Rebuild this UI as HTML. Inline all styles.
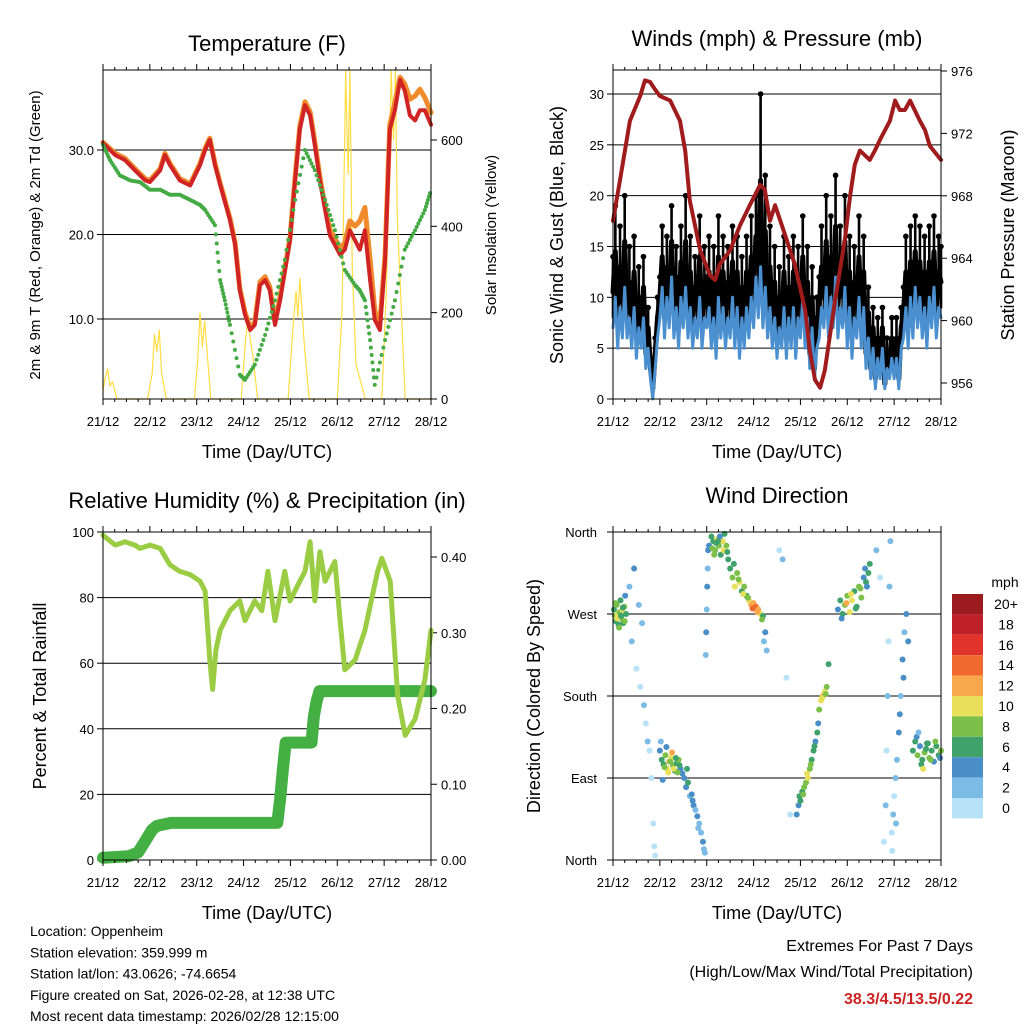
<!DOCTYPE html>
<html><head><meta charset="utf-8"><style>
html,body{margin:0;padding:0;background:#fff}
svg{display:block;font-family:"Liberation Sans",Arial,sans-serif}
</style></head><body>
<svg id="c" width="1024" height="1024" viewBox="0 0 1024 1024" xmlns="http://www.w3.org/2000/svg"></svg>
<script>
// ---------- DATA ----------
const dayLabels=["21/12","22/12","23/12","24/12","25/12","26/12","27/12","28/12"];
const tempT=[0,0.26,0.47,0.68,0.90,1.00,1.22,1.32,1.43,1.64,1.86,2.07,2.18,2.28,2.39,2.50,2.71,2.82,2.92,3.03,3.14,3.24,3.35,3.46,3.56,3.67,3.78,3.99,4.10,4.20,4.31,4.42,4.52,4.63,4.74,4.84,5.06,5.16,5.27,5.38,5.48,5.59,5.70,5.80,5.91,6.02,6.12,6.23,6.34,6.44,6.55,6.66,6.76,6.87,7.00];
const temp2m=[30.8,29.4,28.8,27.6,26.4,26.2,27.6,29.4,28.2,26.4,25.8,28.2,30.0,31.2,28.2,25.9,21.7,18.8,13.4,10.5,8.7,9.3,14.0,14.6,13.4,9.3,12.2,19.3,26.4,32.4,35.3,34.1,30.6,26.4,22.9,19.9,17.6,18.2,20.5,19.3,18.2,20.5,14.6,9.9,8.7,17.0,32.4,34.7,38.3,37.0,34.1,33.5,34.7,34.7,33.0];
const temp9m=[30.9,29.6,29.0,27.8,26.6,26.4,27.8,29.6,28.4,26.6,26.0,28.4,30.2,31.4,28.4,26.1,21.9,19.0,13.6,10.8,9.0,9.6,14.4,15.0,13.8,9.7,12.6,19.6,26.8,32.8,35.7,34.5,31.0,26.8,23.3,20.6,18.4,19.0,21.6,21.0,21.6,23.2,17.0,11.0,9.6,17.6,33.0,35.6,38.6,37.8,36.0,36.4,37.2,36.2,34.4];
const tdT=[0,0.15,0.36,0.58,0.79,1.00,1.22,1.43,1.64,1.86,2.07,2.18,2.39,2.50,2.60,2.71,2.92,3.03,3.24,3.46,3.67,3.88,4.10,4.31,4.52,4.74,4.95,5.16,5.38,5.48,5.59,5.70,5.80,6.02,6.23,6.44,6.66,6.87,7.00];
const tdVal=[30.6,28.8,27.0,26.4,26.2,25.3,25.3,24.7,24.7,24.1,23.5,22.9,21.1,14.6,12.2,9.3,3.4,2.8,4.6,8.1,12.2,17.0,24.1,30.0,27.6,24.1,20.5,15.8,14.0,13.4,12.2,7.5,2.2,7.5,12.2,18.2,20.5,22.9,25.3];
const solT=[0,0.05,0.1,0.15,0.2,0.3,0.95,1.05,1.1,1.15,1.2,1.25,1.35,1.95,2.02,2.07,2.12,2.17,2.3,2.95,3.03,3.09,3.14,3.2,3.3,3.95,4.05,4.12,4.16,4.2,4.3,4.4,5.0,5.1,5.18,5.23,5.27,5.32,5.4,5.6,5.95,6.05,6.15,6.2,6.24,6.28,6.35,6.45,7.0];
const solVal=[20,50,70,30,40,0,0,60,150,110,160,60,0,0,90,200,120,180,0,0,120,190,140,100,0,0,160,250,190,280,120,0,0,200,760,520,760,300,80,0,0,260,760,600,760,420,250,0,0];

const windT=[];for(let i=0;i<=140;i++)windT.push(i/20);
const windSonic=[7,10,5,9,6,11,6,8,5,9,4,7,5,8,3,5,2,0,3,6, 8,11,6,10,7,12,6,9,5,10,7,11,6,9,5,8,6,10,5,8, 7,9,5,8,4,10,6,9,5,8,6,10,5,9,4,8,5,9,6,10, 7,12,8,13,7,11,6,9,5,8,4,7,5,9,4,8,5,9,4,8, 6,10,5,8,3,7,2,5,6,9,7,11,6,10,7,12,6,9,7,11, 5,9,4,8,6,10,5,9,3,6,2,5,1,4,2,5,1,3,2,4, 2,4,1,5,6,9,5,10,6,11,7,10,6,9,5,10,7,11,6,9, 8];
const windGust=[14,19,12,17,13,20,11,15,10,16,9,13,8,14,6,9,4,2,6,10, 12,17,10,16,12,19,11,15,9,17,13,20,11,16,10,14,12,18,10,15, 12,16,9,15,8,18,11,16,10,15,12,17,10,16,8,14,10,16,11,18, 14,20,18,30,14,22,12,17,10,15,8,13,10,16,8,14,10,16,9,15, 12,18,10,15,6,13,4,10,12,17,13,20,12,18,14,22,12,17,14,20, 10,16,9,15,12,18,10,16,6,11,4,9,3,8,4,9,2,6,4,8, 4,8,3,9,11,16,10,17,11,18,13,17,11,16,10,17,12,18,11,16, 15];
const presT=[0,0.15,0.36,0.58,0.68,0.79,0.90,1.00,1.22,1.43,1.54,1.64,1.86,2.07,2.18,2.28,2.50,2.71,2.92,3.14,3.24,3.35,3.46,3.67,3.88,4.10,4.20,4.31,4.42,4.52,4.74,4.95,5.06,5.16,5.27,5.48,5.59,5.70,5.91,6.02,6.12,6.23,6.34,6.55,6.66,6.76,7.00];
const presVal=[966.4,969.0,972.8,974.4,975.4,975.3,974.8,974.4,974.1,972.8,970.9,967.7,964.5,962.9,962.6,963.6,964.5,966.1,967.4,968.7,968.4,966.4,967.4,965.5,963.6,960.7,958.1,956.2,955.7,956.8,961.3,965.2,968.0,970.0,970.9,970.3,970.9,971.6,972.8,974.1,973.5,973.5,974.1,972.8,972.2,971.2,970.3];

const rhT=[0,0.26,0.47,0.68,0.79,1.00,1.22,1.43,1.64,1.86,2.07,2.18,2.28,2.34,2.41,2.50,2.71,2.92,3.03,3.24,3.39,3.52,3.67,3.88,3.99,4.20,4.31,4.42,4.52,4.63,4.74,4.95,5.06,5.16,5.38,5.59,5.86,5.95,6.13,6.29,6.45,6.66,6.87,7.00];
const rhVal=[99,96,97,96,95,96,95,90,88,87,85,82,61,52,64,70,76,79,73,79,76,88,73,88,79,85,88,97,79,94,85,91,73,58,61,70,88,92,85,50,38,43,55,70];
const precipT=[0,0.55,0.75,0.85,0.95,1.05,1.15,1.45,3.72,3.78,3.84,3.90,4.45,4.50,4.56,4.62,7.0];
const precipVal=[0.003,0.005,0.01,0.02,0.03,0.04,0.045,0.049,0.049,0.08,0.12,0.155,0.155,0.19,0.21,0.223,0.223];

const wdT=[0.02,0.04,0.06,0.08,0.10,0.12,0.14,0.16,0.18,0.20,0.22,0.24,0.26,0.28,0.05,0.09,0.13,0.17,0.21,0.25,
0.35,0.40,0.45,0.50,0.55,0.58,0.62,0.66,0.70,0.74,0.78,0.82,0.86,0.88,0.90,
1.00,1.04,1.08,1.12,1.16,1.20,1.24,1.28,1.32,1.36,1.40,1.44,1.48,1.02,1.10,1.18,1.26,1.34,1.42,1.06,1.14,1.22,1.30,1.38,
1.52,1.56,1.60,1.64,1.68,1.72,1.76,1.80,1.84,1.88,1.92,1.96,1.58,1.70,1.82,1.94,
1.98,1.99,2.00,2.01,2.02,2.03,2.05,2.10,2.14,2.18,2.22,2.26,2.30,2.34,2.38,2.42,2.46,2.12,2.20,2.28,2.36,2.44,2.16,2.24,
2.50,2.55,2.60,2.65,2.70,2.75,2.80,2.85,2.90,2.95,3.00,3.05,3.10,3.15,3.20,3.25,2.58,2.68,2.78,2.88,2.98,3.08,3.18,3.22,3.28,
3.55,3.62,3.70,3.78,
3.92,3.96,4.00,4.04,4.08,4.12,4.16,4.20,4.24,4.28,4.32,4.36,4.40,4.44,4.48,4.52,4.56,4.60,3.98,4.06,4.14,4.22,4.30,4.38,4.46,4.54,
4.80,4.85,4.90,4.95,5.00,5.05,5.10,5.15,5.20,5.25,5.30,5.35,5.40,5.45,4.88,4.98,5.08,5.18,5.28,5.38,5.42,5.48,
5.62,5.70,5.78,5.82,5.84,5.86,5.88,5.90,5.92,5.95,5.98,6.00,6.03,6.06,6.10,6.14,6.18,6.22,6.26,6.30,5.96,6.04,6.12,6.20,
6.40,6.45,6.50,6.55,6.60,6.65,6.70,6.75,6.80,6.85,6.90,6.95,7.00,6.48,6.58,6.68,6.78,6.88,6.98,6.52,6.62,6.72];
const wdDir=[275,268,262,280,270,258,272,285,265,275,260,278,290,270,282,265,255,268,277,262,
300,240,320,210,280,190,260,170,150,130,120,90,40,15,5,
120,110,105,115,100,108,112,104,98,106,110,100,95,130,102,96,118,112,104,88,124,108,100,96,
90,80,85,70,72,60,55,48,40,30,20,8,100,65,35,12,
225,250,275,300,320,340,345,355,350,340,352,345,335,350,358,345,330,342,348,355,340,338,335,350,
320,310,300,315,305,295,300,290,285,280,282,278,275,270,268,250,325,308,292,288,276,272,264,240,230,
340,330,200,50,
50,60,65,75,80,85,90,100,110,120,130,140,165,175,180,185,190,215,70,72,95,105,125,150,178,182,
275,285,270,280,290,272,285,295,278,300,288,310,305,315,265,282,292,276,298,320,300,325,
340,310,20,60,120,180,240,300,350,30,50,70,90,110,140,180,220,250,270,240,10,40,160,200,
120,130,115,125,110,118,128,112,120,108,125,115,120,135,105,122,110,130,112,140,100,128];
const wdSpd=[7,8,6,9,10,7,8,6,9,11,7,8,5,6,9,10,8,7,6,9,
3,2,4,1,2,1,3,2,1,2,1,1,1,0,1,
4,6,7,9,11,12,10,8,7,6,9,5,4,3,8,10,12,7,6,5,4,9,11,8,
5,4,6,3,5,4,3,4,2,3,4,2,6,5,3,2,
3,4,3,4,3,4,5,6,7,9,10,8,7,11,6,8,7,9,6,5,10,7,8,6,
7,8,10,9,11,7,8,6,10,12,13,14,12,10,7,4,6,9,11,8,14,13,9,3,3,
1,2,1,0,
4,5,7,6,8,9,10,8,7,6,5,6,8,10,12,11,9,7,6,8,11,9,7,5,10,9,
5,6,7,9,8,10,11,7,6,8,9,5,7,6,4,12,10,7,8,5,4,6,
2,1,1,2,1,2,1,3,2,1,2,1,2,3,4,3,4,3,5,4,1,2,4,5,
6,7,8,5,6,9,7,8,6,5,7,6,8,4,6,7,9,8,5,3,10,6];
const cbLabels=["20+","18","16","14","12","10","8","6","4","2","0"];
const cbColors=["#9b1b1e","#c0202a","#e0332c","#f06a2d","#f8a84a","#e8e05a","#7cc04a","#3fa26a","#4a8ec8","#7cbbe6","#b8e2f8"];

// ---------- HELPERS ----------
const svg=document.getElementById('c');
const NS="http://www.w3.org/2000/svg";
function mk(tag,attrs,name,parent){
  const el=document.createElementNS(NS,tag);
  for(const k in attrs)el.setAttribute(k,attrs[k]);
  
  
  (parent||svg).appendChild(el);return el;
}
function txt(x,y,s,size,anchor,name,extra){
  const a=Object.assign({x:x,y:y,'font-size':size,'text-anchor':anchor||'middle',fill:'#000'},extra||{});
  const t=mk('text',a,name);t.textContent=s;return t;
}
function lin(d0,d1,r0,r1){return v=>r0+(v-d0)/(d1-d0)*(r1-r0);}
function poly(xs,ys,fx,fy,attrs,name){
  const pts=xs.map((t,i)=>fx(t).toFixed(1)+","+fy(ys[i]).toFixed(1)).join(" ");
  return mk('polyline',Object.assign({points:pts,fill:'none','stroke-linejoin':'round','stroke-linecap':'round'},attrs),name);
}
function frame(x0,y0,x1,y1,key){
  mk('rect',{x:x0,y:y0,width:x1-x0,height:y1-y0,fill:'none',stroke:'#000','stroke-width':1},key+'-frame');
  const fx=lin(0,7,x0,x1);
  dayLabels.forEach((l,i)=>{
    const x=fx(i);
    mk('line',{x1:x,y1:y1,x2:x,y2:y1+6,stroke:'#000'},key+'-x-tick');
    mk('line',{x1:x,y1:y0,x2:x,y2:y0-6,stroke:'#000'},key+'-x-tick-top');
    txt(x,y1+27,l,13,'middle',key+'-x-tick-label');
  });
  for(let i=0;i<7;i++)for(let j=1;j<4;j++){const x=fx(i+j/4);
    mk('line',{x1:x,y1:y1,x2:x,y2:y1+3,stroke:'#000'},key+'-x-minor');
    mk('line',{x1:x,y1:y0,x2:x,y2:y0-3,stroke:'#000'},key+'-x-minor-top');}
  txt((x0+x1)/2,y1+59,"Time (Day/UTC)",18,'middle',key+'-x-axis-title');
  return fx;
}
function yaxis(fy,vals,labels,x0,x1,side,key,grid){
  vals.forEach((v,i)=>{const y=fy(v);
    if(grid)mk('line',{x1:x0,y1:y,x2:x1,y2:y,stroke:'#000','stroke-width':1},key+'-grid-line');
    if(side==='l'){mk('line',{x1:x0-6,y1:y,x2:x0,y2:y,stroke:'#000'},key+'-y-tick');txt(x0-9,y+5,labels[i],13,'end',key+'-y-tick-label');}
    else{mk('line',{x1:x1,y1:y,x2:x1+6,y2:y,stroke:'#000'},key+'-y2-tick');txt(x1+10,y+5,labels[i],13,'start',key+'-y2-tick-label');}
  });
}
function vtitle(x,y,s,size,name){return txt(x,y,s,size,'middle',name,{transform:`rotate(-90 ${x} ${y})`});}

// ---------- PANEL 1: TEMPERATURE ----------
(function(){
  const x0=103,x1=431,y0=70,y1=399;
  const fy=lin(30,10,150,319), fs=lin(0,600,399,140);
  const fx=lin(0,7,x0,x1);
  yaxis(fy,[30,20,10],["30.0","20.0","10.0"],x0,x1,'l','temp',true);
  yaxis(fs,[0,200,400,600],["0","200","400","600"],x0,x1,'r','solar',false);
  const sv=solVal.map(v=>Math.min(v,760));
  poly(solT,sv,fx,fs,{stroke:'#ffdd44','stroke-width':1.2},'solar-insolation-line');
  poly(tempT,temp9m,fx,fy,{stroke:'#f08a2a','stroke-width':5},'temp-9m-line');
  poly(tempT,temp2m,fx,fy,{stroke:'#d02424','stroke-width':4},'temp-2m-line');
  for(let i=0;i<tdT.length-1;i++){for(let k=0;k<6;k++){const f=k/6;
    const t=tdT[i]+(tdT[i+1]-tdT[i])*f, v=tdVal[i]+(tdVal[i+1]-tdVal[i])*f;
    mk('circle',{cx:fx(t),cy:fy(v),r:2,fill:'#44aa44'},'dewpoint-dot');}}
  frame(x0,y0,x1,y1,'temp');
  txt(267,51,"Temperature (F)",22,'middle','temp-title');
  vtitle(40,235,"2m & 9m T (Red, Orange) & 2m Td (Green)",15,'temp-y-axis-title');
  vtitle(496,235,"Solar Insolation (Yellow)",15,'solar-y-axis-title');
})();

// ---------- PANEL 2: WINDS ----------
(function(){
  const x0=613,x1=941,y0=70,y1=399;
  const fy=lin(0,30,399,94), fp=lin(956,976,383,71);
  const fx=lin(0,7,x0,x1);
  yaxis(fy,[0,5,10,15,20,25,30],["0","5","10","15","20","25","30"],x0,x1,'l','wind',true);
  yaxis(fp,[956,960,964,968,972,976],["956","960","964","968","972","976"],x0,x1,'r','pressure',false);
  windT.forEach((t,i)=>{
    mk('line',{x1:fx(t),y1:fy(windSonic[i]+1),x2:fx(t),y2:fy(windGust[i]),stroke:'#000','stroke-width':2.6,'stroke-linecap':'round'},'gust-spread');
    mk('circle',{cx:fx(t),cy:fy(windGust[i]),r:2.8,fill:'#000'},'gust-dot');});
  const mid=windGust.map((g,i)=>(g+windSonic[i])/2);
  poly(windT,mid,fx,fy,{stroke:'#000','stroke-width':5},'gust-cloud');
  poly(windT,windSonic,fx,fy,{stroke:'#4a90d0','stroke-width':3},'sonic-wind-line');
  poly(presT,presVal,fx,fp,{stroke:'#a01c1c','stroke-width':4},'pressure-line');
  frame(x0,y0,x1,y1,'wind');
  txt(777,46,"Winds (mph) & Pressure (mb)",22,'middle','wind-title');
  vtitle(563,235,"Sonic Wind & Gust (Blue, Black)",18,'wind-y-axis-title');
  vtitle(1014,235,"Station Pressure (Maroon)",18,'pressure-y-axis-title');
})();

// ---------- PANEL 3: RH & PRECIP ----------
(function(){
  const x0=103,x1=431,y0=532,y1=860;
  const fy=lin(0,100,860,532), fr=lin(0,0.4,860,557);
  const fx=lin(0,7,x0,x1);
  yaxis(fy,[0,20,40,60,80,100],["0","20","40","60","80","100"],x0,x1,'l','rh',true);
  yaxis(fr,[0,0.1,0.2,0.3,0.4],["0.00","0.10","0.20","0.30","0.40"],x0,x1,'r','precip',false);
  poly(precipT,precipVal,fx,fr,{stroke:'#44b044','stroke-width':12},'precip-line');
  poly(rhT,rhVal,fx,fy,{stroke:'#9acd44','stroke-width':5},'rh-line');
  frame(x0,y0,x1,y1,'rh');
  txt(267,508,"Relative Humidity (%) & Precipitation (in)",22,'middle','rh-title');
  vtitle(46,696,"Percent & Total Rainfall",18,'rh-y-axis-title');
})();

// ---------- PANEL 4: WIND DIRECTION ----------
(function(){
  const x0=613,x1=941,y0=532,y1=860;
  const fy=lin(0,360,860,532);
  const fx=lin(0,7,x0,x1);
  const dl=["North","East","South","West","North"];
  [0,90,180,270,360].forEach((v,i)=>{const y=fy(v);
    mk('line',{x1:x0,y1:y,x2:x1,y2:y,stroke:'#000'},'wdir-grid-line');
    mk('line',{x1:x0-6,y1:y,x2:x0,y2:y,stroke:'#000'},'wdir-y-tick');
    txt(x0-16,y+5,dl[i],13,'end','wdir-y-tick-label');});
  function col(s){let i=Math.floor(s/2);if(i>10)i=10;return cbColors[10-i];}
  wdT.forEach((t,i)=>{mk('circle',{cx:fx(t),cy:fy(wdDir[i]),r:3,fill:col(wdSpd[i])},'wind-direction-point');});
  frame(x0,y0,x1,y1,'wdir');
  txt(777,503,"Wind Direction",22,'middle','wdir-title');
  vtitle(540,696,"Direction (Colored By Speed)",18,'wdir-y-axis-title');
  txt(1005,587,"mph",14,'middle','colorbar-unit');
  cbColors.forEach((c,i)=>{
    mk('rect',{x:952,y:594+i*20.4,width:31,height:20.4,fill:c},'colorbar-box');
    txt(1006,594+i*20.4+15,cbLabels[i],14,'middle','colorbar-label');});
})();

// ---------- FOOTER ----------
["Location: Oppenheim","Station elevation: 359.999 m","Station lat/lon: 43.0626; -74.6654","Figure created on Sat, 2026-02-28, at 12:38 UTC","Most recent data timestamp: 2026/02/28 12:15:00"].forEach((s,i)=>{
  txt(30,936+i*21.3,s,14,'start','station-info-line');});
txt(973,951,"Extremes For Past 7 Days",16,'end','extremes-heading');
txt(973,977,"(High/Low/Max Wind/Total Precipitation)",16,'end','extremes-subheading');
txt(973,1004,"38.3/4.5/13.5/0.22",16,'end','extremes-values',{fill:'#cc2222','font-weight':'bold'});
</script>
</body></html>
